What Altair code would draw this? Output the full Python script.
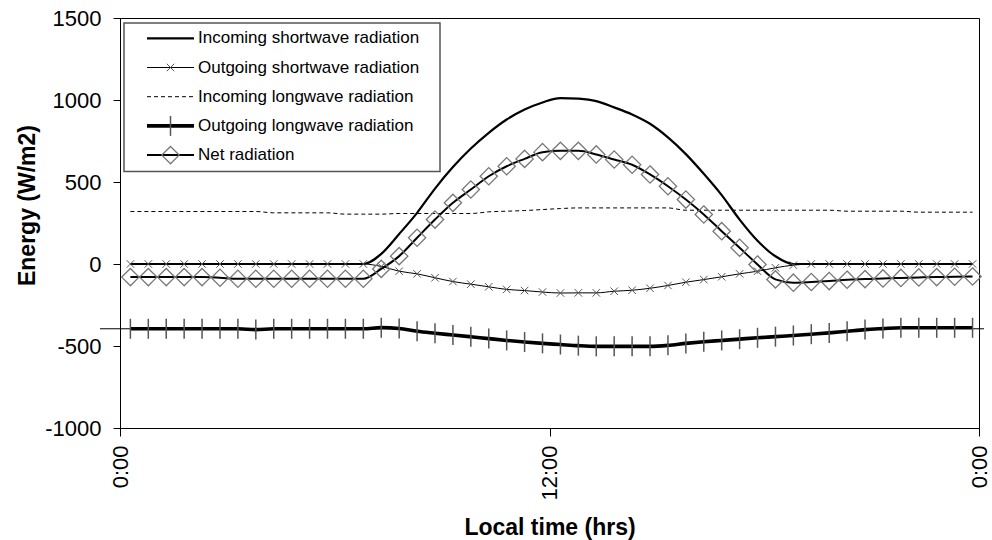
import altair as alt
import pandas as pd

# Half-hourly time steps over one day (hours after midnight)
hours = [i * 0.5 for i in range(48)]

# Radiation components (W/m2)
sw_in = [0] * 14 + [
    62, 183, 312, 460, 591, 704, 800, 881, 942, 985, 1012, 1008,
    993, 955, 912, 855, 772, 670, 550, 420, 271, 142, 47,
] + [0] * 11

sw_out = [0] * 14 + [
    -15, -44, -60, -84, -107, -123, -139, -155, -162, -171, -177, -176,
    -176, -166, -160, -148, -131, -111, -95, -78, -60, -44, -23, -7,
] + [0] * 10

lw_in = (
    [320] * 8 + [312] * 4 + [304] * 3 + [308] * 5
    + [318, 322, 326, 332, 338] + [342] * 6 + [328] * 9 + [322] * 4 + [316] * 4
)

lw_out = (
    [-395] * 7 + [-400] + [-395] * 6
    + [-388, -393, -410, -422, -433, -444, -455, -466, -476, -484, -491, -498]
    + [-502] * 4
    + [-496, -484, -474, -466, -458, -450, -443, -436, -428, -420, -410, -400, -394]
    + [-389] * 5
)

net = [-80] * 5 + [-84] + [-90] * 8 + [
    -30, 48, 160, 271, 373, 454, 535, 596, 641, 682, 690, 690, 668, 637,
    605, 546, 474, 393, 302, 200, 99, -3, -94, -114, -110, -104, -96, -92,
    -88, -85, -82, -80, -78, -76,
]

series_names = [
    "Incoming shortwave radiation",
    "Outgoing shortwave radiation",
    "Incoming longwave radiation",
    "Outgoing longwave radiation",
    "Net radiation",
]
series_values = [sw_in, sw_out, lw_in, lw_out, net]

# Level of the thin lead-in stubs at both ends of the chart (W/m2)
stub_level = -395

y_ticks = [-1000, -500, 0, 500, 1000, 1500]
x_tick_labels = ["0:00", "12:00", "0:00"]

FONT = "Liberation Sans"
X_DOMAIN = [-0.29, 23.68]
x_tick_values = [X_DOMAIN[0], (X_DOMAIN[0] + X_DOMAIN[1]) / 2, X_DOMAIN[1]]
label_expr = (
    f"datum.value < {x_tick_values[1] - 1} ? '{x_tick_labels[0]}' : "
    f"datum.value < {x_tick_values[1] + 1} ? '{x_tick_labels[1]}' : '{x_tick_labels[2]}'"
)

# Marker outlines (unit paths, scaled by the point size)
X_MARK = "M-1,-1L1,1M-1,1L1,-1"
TICK_MARK = "M0,-1V1"
DIAMOND = "M0,-1L1,0L0,1L-1,0Z"

x_enc = alt.X(
    "hour:Q",
    scale=alt.Scale(domain=X_DOMAIN, nice=False, zero=False),
    axis=alt.Axis(
        values=x_tick_values,
        labelExpr=label_expr,
        labelAngle=-90,
        labelFontSize=22,
        labelPadding=9,
        tickSize=8,
        title="Local time (hrs)",
        titleFontSize=23,
        titleFontWeight="bold",
        titleBaseline="alphabetic",
        titleY=106,
        grid=False,
    ),
)
y_enc = alt.Y(
    "value:Q",
    scale=alt.Scale(domain=[-1000, 1500], nice=False),
    axis=alt.Axis(
        values=y_ticks,
        labelExpr="toString(datum.value)",
        labelFontSize=22,
        labelPadding=12,
        tickSize=7,
        title="Energy (W/m2)",
        titleFontSize=23,
        titleFontWeight="bold",
        titleAngle=-90,
        titleBaseline="alphabetic",
        titleAlign="center",
        titleX=-86,
        titleY=187,
        grid=False,
    ),
)


def frame(values):
    return pd.DataFrame({"hour": hours, "value": values})


line_styles = [
    dict(color="black", strokeWidth=2.2),
    dict(color="black", strokeWidth=1),
    dict(color="black", strokeWidth=1, strokeDash=[4, 3]),
    dict(color="black", strokeWidth=3.6),
    dict(color="black", strokeWidth=2),
]
marker_styles = [
    None,
    dict(shape=X_MARK, size=56, stroke="#555555", strokeWidth=1),
    None,
    dict(shape=TICK_MARK, size=400, stroke="#555555", strokeWidth=1.5),
    dict(shape=DIAMOND, size=300, stroke="#777777", strokeWidth=1.3),
]

# Short thin stubs running out past the axes on either side
layers = [
    alt.Chart(pd.DataFrame({"hour": [hours[0]], "value": [stub_level]}))
    .mark_rule(color="black", strokeWidth=1)
    .encode(x=x_enc, x2=alt.value(-20), y=y_enc),
    alt.Chart(pd.DataFrame({"hour": [hours[-1]], "value": [stub_level]}))
    .mark_rule(color="black", strokeWidth=1)
    .encode(x=x_enc, x2=alt.value(864), y=y_enc),
]
for vals, ls, ms in zip(series_values, line_styles, marker_styles):
    base = alt.Chart(frame(vals)).encode(x=x_enc, y=y_enc)
    layers.append(base.mark_line(interpolate="monotone", **ls))
    if ms:
        layers.append(base.mark_point(filled=False, opacity=1, **ms))

# Legend box drawn inside the plot area
LEG_ROW0, LEG_STEP = 20.3, 29.2
layers.append(
    alt.Chart(pd.DataFrame({"k": [0]}))
    .mark_rect(fill="white", stroke="#555555", strokeWidth=1.5)
    .encode(x=alt.value(4), x2=alt.value(320), y=alt.value(5), y2=alt.value(153.5))
)
for i, (name, ls, ms) in enumerate(zip(series_names, line_styles, marker_styles)):
    ly = LEG_ROW0 + i * LEG_STEP
    src = alt.Chart(pd.DataFrame({"label": [name]}))
    layers.append(
        src.mark_rule(**ls).encode(x=alt.value(27), x2=alt.value(74), y=alt.value(ly))
    )
    if ms:
        layers.append(
            src.mark_point(filled=False, opacity=1, **ms).encode(
                x=alt.value(50.5), y=alt.value(ly)
            )
        )
    layers.append(
        src.mark_text(align="left", baseline="middle", fontSize=17, font=FONT, color="black")
        .encode(x=alt.value(78), y=alt.value(ly), text="label:N")
    )

chart = (
    alt.layer(*layers)
    .properties(
        width=859,
        height=410,
        autosize=alt.AutoSizeParams(type="none"),
        padding={"left": 120, "top": 18, "right": 13, "bottom": 112},
        background="white",
    )
    .configure_view(stroke="black", strokeWidth=1)
    .configure_axis(
        labelFont=FONT,
        titleFont=FONT,
        labelColor="black",
        titleColor="black",
        domainColor="black",
        tickColor="black",
        domainWidth=1,
        tickWidth=1,
    )
)

chart.save("out.html", embed_options={"renderer": "svg", "actions": False})
